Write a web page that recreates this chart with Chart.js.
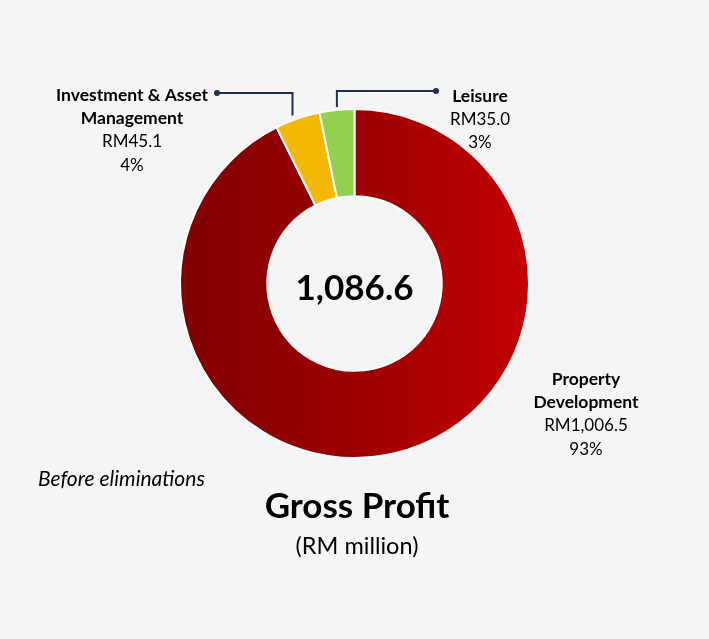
<!DOCTYPE html>
<html>
<head>
<meta charset="utf-8">
<script src="https://cdn.jsdelivr.net/npm/chart.js@4"></script>
<style>
  html, body { margin: 0; padding: 0; background: #f5f5f5; }
  #wrap { width: 709px; height: 639px; position: relative; }
</style>
</head>
<body>
<div id="wrap"><canvas id="gp"></canvas></div>
<script>
const segments = ["Property Development", "Investment & Asset Management", "Leisure"];
const labelLines = [["Property", "Development"], ["Investment & Asset", "Management"], ["Leisure"]];
const values = [1006.5, 45.1, 35.0];
const valueLabels = ["RM1,006.5", "RM45.1", "RM35.0"];
const pctLabels = ["93%", "4%", "3%"];
const totalLabel = "1,086.6";
const colors = ["#b00000", "#f5b800", "#92d050"];

const ctx = document.getElementById("gp");

Chart.defaults.font.family = "Lato";

const labelsPlugin = {
  id: "labels",
  afterDraw(chart) {
    const c = chart.ctx;
    const arcs = chart.getDatasetMeta(0).data;
    c.save();
    c.fillStyle = "#000";
    c.textAlign = "center";
    c.textBaseline = "middle";

    // center total
    c.font = "bold 35px Lato";
    c.fillText(totalLabel, arcs[0].x, arcs[0].y + 5);

    // connector lines for the two small slices
    c.strokeStyle = "#1f3050";
    c.fillStyle = "#1f3050";
    c.lineWidth = 2;
    const mid = (a) => (a.startAngle + a.endAngle) / 2;
    const edge = (a) => ({
      x: a.x + Math.cos(mid(a)) * a.outerRadius,
      y: a.y + Math.sin(mid(a)) * a.outerRadius,
    });
    let p = edge(arcs[1]);
    c.beginPath();
    c.moveTo(p.x - 5, p.y - 3);
    c.lineTo(p.x - 5, 93);
    c.lineTo(217, 93);
    c.stroke();
    c.beginPath();
    c.arc(217, 93, 3, 0, Math.PI * 2);
    c.fill();
    p = edge(arcs[2]);
    c.beginPath();
    c.moveTo(p.x, p.y - 3);
    c.lineTo(p.x, 91);
    c.lineTo(436, 91);
    c.stroke();
    c.beginPath();
    c.arc(436, 91, 3, 0, Math.PI * 2);
    c.fill();

    // segment labels
    c.fillStyle = "#000";
    const spots = [[586, 379], [132, 95], [480, 96]];
    spots.forEach((s, i) => {
      let y = s[1];
      c.font = "bold 17.5px Lato";
      labelLines[i].forEach((t) => { c.fillText(t, s[0], y); y += 23.5; });
      c.font = "17px Lato";
      c.fillText(valueLabels[i], s[0], y); y += 23.5;
      c.fillText(pctLabels[i], s[0], y);
    });

    c.textAlign = "left";
    c.font = "italic 21px Lato";
    c.fillText("Before eliminations", 38, 479);
    c.textAlign = "center";
    c.font = "bold 35px Lato";
    c.fillText("Gross Profit", 357, 507);
    c.font = "23.5px Lato";
    c.fillText("(RM million)", 357, 546);
    c.restore();
  },
};

new Chart(ctx, {
  type: "doughnut",
  data: {
    labels: segments,
    datasets: [
      {
        data: values,
        backgroundColor: (context) => {
          const area = context.chart.chartArea;
          if (context.dataIndex !== 0 || !area) return colors[context.dataIndex];
          const g = context.chart.ctx.createLinearGradient(area.left, 0, area.right, 0);
          g.addColorStop(0, "#800000");
          g.addColorStop(0.5, "#9c0000");
          g.addColorStop(1, "#c20000");
          return g;
        },
        borderColor: "#ffffff",
        borderWidth: 2,
        hoverOffset: 0,
      },
    ],
  },
  options: {
    responsive: true,
    maintainAspectRatio: false,
    animation: false,
    cutout: "50%",
    layout: {
      padding: { left: 179, right: 179, top: 108, bottom: 180 },
    },
    plugins: {
      legend: { display: false },
      tooltip: { enabled: true },
    },
  },
  plugins: [labelsPlugin],
});
</script>
</body>
</html>
